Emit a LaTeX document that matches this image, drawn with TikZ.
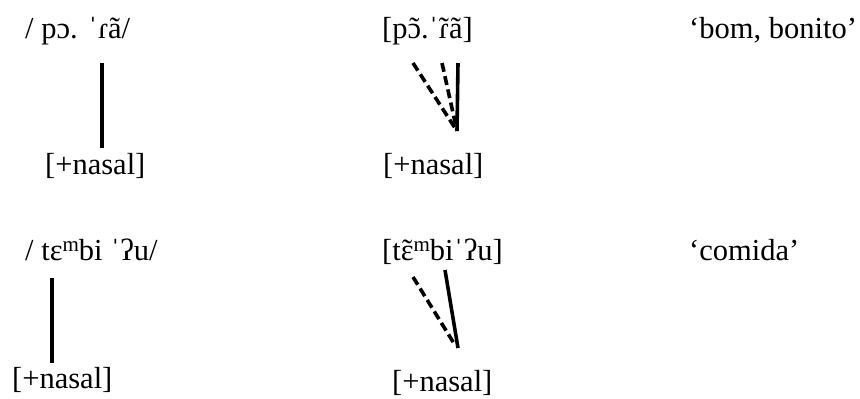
\documentclass[tikz,border=0pt]{standalone}
\usepackage{fontspec}
\setmainfont{Liberation Serif}
\newcommand{\supm}{{\fontsize{21}{21}\selectfont\raisebox{9pt}{m}}}
\newcommand{\nt}[1]{\ooalign{#1\cr\hidewidth\char"02DC\hidewidth\cr}}
\begin{document}
\begin{tikzpicture}[x=1pt,y=-1pt,
  txt/.style={anchor=base west,inner sep=0pt,font=\fontsize{30.5}{36}\selectfont},
  assoc/.style={line width=3.6pt},
  dassoc/.style={line width=3.6pt,dash pattern=on 9pt off 4.5pt}]
\useasboundingbox (0,0) rectangle (860,399);
% row 1
\node[txt] (u1) at (25,38) {/ pɔ. ˈɾã/};
\node[txt] (s1) at (382,38) {[p\nt{ɔ}.ˈ\nt{ɾ}ã]};
\node[txt] (g1) at (689,38) {‘bom, bonito’};
\node[txt] (n1) at (45,174) {[+nasal]};
\node[txt] (m1) at (383,174) {[+nasal]};
% row 2
\node[txt] (u2) at (25,260) {/ tɛ\supm bi ˈʔu/};
\node[txt] (s2) at (382,260) {[t\nt{ɛ}\supm biˈʔu]};
\node[txt] (g2) at (689,260) {‘comida’};
\node[txt] (n2) at (12,388) {[+nasal]};
\node[txt] (m2) at (392,391) {[+nasal]};
% connector ends
\coordinate (a1) at (102,63);  \coordinate (b1) at (102,148);
\coordinate (c1) at (458,63);  \coordinate (d1) at (457,131);
\coordinate (e1) at (413,63);  \coordinate (f1) at (442,63);
\coordinate (a2) at (52,278);  \coordinate (b2) at (52,363);
\coordinate (c2) at (445,270); \coordinate (d2) at (458,348);
\coordinate (e2) at (413,277); \coordinate (h2) at (455,345);
\draw[assoc] (a1) -- (b1);
\draw[assoc] (c1) -- (d1);
\draw[dassoc] (e1) -- (d1);
\draw[dassoc] (f1) -- (d1);
\draw[assoc] (a2) -- (b2);
\draw[assoc] (c2) -- (d2);
\draw[dassoc] (e2) -- (h2);
\end{tikzpicture}
\end{document}
